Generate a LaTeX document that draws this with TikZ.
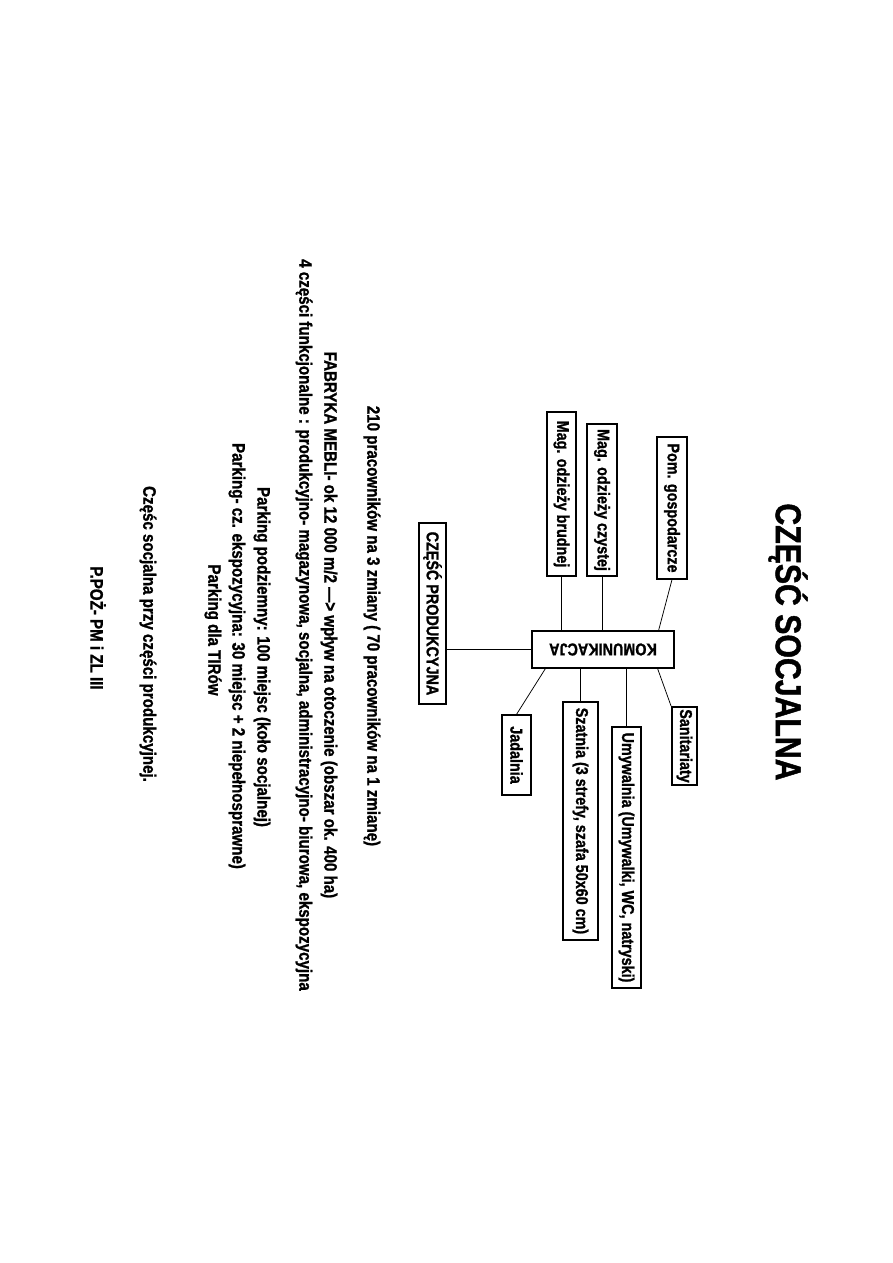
\documentclass[tikz,border=0pt]{standalone}
\usepackage{fontspec}
\setmainfont{Liberation Sans}[FakeStretch=0.84, BoldFeatures={FakeBold=1.2}]
\usepackage{graphicx}
\usetikzlibrary{calc}

\begin{document}
\begin{tikzpicture}[x=0.6667pt, y=-0.6667pt,
		box/.style 2 args={draw, line width=0.8pt, inner sep=0pt, minimum width=#1*0.6667pt, minimum height=#2*0.6667pt, font=\fontsize{11.4}{14}\selectfont\bfseries},
		txt/.style={rotate=-90, inner sep=0pt, font=\fontsize{12}{14}\selectfont\bfseries},
		link/.style={line width=0.5pt}]
		\useasboundingbox (0,0) rectangle (893,1263);

		\node[txt, font=\fontsize{24}{28}\selectfont\bfseries] (tytul) at (788,642) {CZĘŚĆ SOCJALNA};

		\node[box={142}{37}] (komunikacja) at (603,649.5) {\rotatebox{180}{KOMUNIKACJA}};

		\node[box={29}{164}, line width=1.2pt] (brudna) at (561.5,494) {\rotatebox{-90}{Mag. odzieży brudnej}};
		\node[box={30}{152}, line width=1.2pt] (czysta) at (602,500) {\rotatebox{-90}{Mag. odzieży czystej}};
		\node[box={30}{142}] (gosp) at (672,508) {\rotatebox{-90}{Pom. gospodarcze}};
		\node[box={27}{181}, line width=1.2pt] (produkcja) at (432.5,613.5) {\rotatebox{-90}{CZĘŚĆ PRODUKCYJNA}};
		\node[box={29}{80}] (jadalnia) at (516.5,755) {\rotatebox{-90}{Jadalnia}};
		\node[box={35}{238}] (szatnia) at (580.5,821) {\rotatebox{-90}{Szatnia (3 strefy, szafa 50x60 cm)}};
		\node[box={29}{261}] (umywalnia) at (626.5,857.5) {\rotatebox{-90}{Umywalnia (Umywalki, WC, natryski)}};
		\node[box={25}{78}, line width=1.2pt] (sanitariaty) at (684.5,746) {\rotatebox{-90}{Sanitariaty}};

		\draw[link] (brudna.south) -- (brudna.south |- komunikacja.north);
		\draw[link] (czysta.south) -- (czysta.south |- komunikacja.north);
		\draw[link] (gosp.south) -- ($(komunikacja.north east)+(-16,0)$);
		\draw[link] (komunikacja.west) -- (komunikacja.west -| produkcja.east);
		\draw[link] ($(komunikacja.south west)+(14,0)$) -- (jadalnia.north);
		\draw[link] (szatnia.north |- komunikacja.south) -- (szatnia.north);
		\draw[link] (umywalnia.north |- komunikacja.south) -- (umywalnia.north);
		\draw[link] ($(komunikacja.south east)+(-17,0)$) -- (sanitariaty.north west);

		\node[txt] (pracownicy) at (372,626) {210 pracowników na 3 zmiany ( 70 pracowników na 1 zmianę)};
		\node[txt] (fabryka) at (329,625) {FABRYKA MEBLI- ok 12 000 m/2 —> wpływ na otoczenie (obszar ok. 400 ha)};
		\node[txt] (czesci) at (304,625) {4 części funkcjonalne : produkcyjno- magazynowa, socjalna, administracyjno- biurowa, ekspozycyjna};
		\node[txt] (podziemny) at (262,657) {Parking podziemny: 100 miejsc (koło socjalnej)};
		\node[txt] (ekspozycja) at (237,656) {Parking- cz. ekspozycyjna: 30 miejsc + 2 niepełnosprawne)};
		\node[txt] (tir) at (213,630) {Parking dla TIRów};
		\node[txt] (socjalna) at (148,634) {Częśc socjalna przy części produkcyjnej.};
		\node[txt] (ppoz) at (98,628) {P.POŻ- PM i ZL III};
	\end{tikzpicture}
\end{document}
